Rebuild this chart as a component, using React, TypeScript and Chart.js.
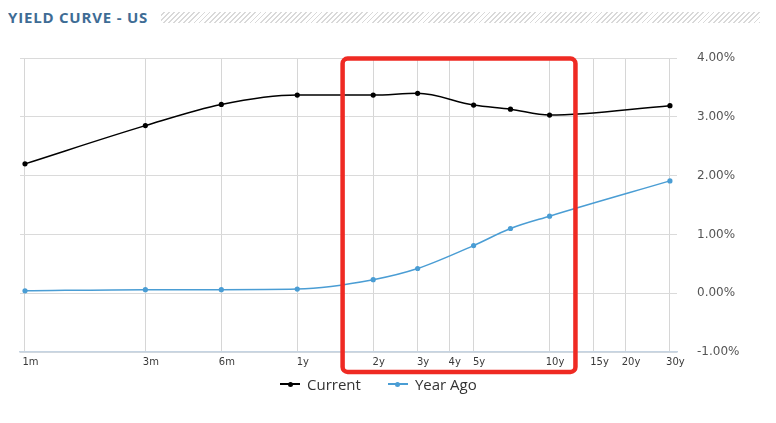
import React, { useEffect, useRef } from "react";
import { Chart, registerables } from "chart.js";

Chart.register(...registerables);

// Maturity in months for each observed point
const maturities = [1, 3, 6, 12, 24, 36, 60, 84, 120, 360];
const currentYields = [2.2, 2.85, 3.21, 3.37, 3.37, 3.4, 3.2, 3.13, 3.03, 3.19];
const yearAgoYields = [0.04, 0.06, 0.06, 0.07, 0.23, 0.42, 0.81, 1.1, 1.31, 1.91];

// X-axis ticks (months) and their labels
const tickMonths = [1, 3, 6, 12, 24, 36, 48, 60, 120, 180, 240, 360];
const tickLabels = ["1m", "3m", "6m", "1y", "2y", "3y", "4y", "5y", "10y", "15y", "20y", "30y"];

// Y-axis range (%)
const yMin = -1;
const yMax = 4;

// Highlight box (in data units: months / percent)
const highlightFrom = 18.15;
const highlightTo = 152;
const highlightTop = 3.99;
const highlightBottom = -1.34;

const CURRENT_COLOR = "#000000";
const YEARAGO_COLOR = "#4a9dd4";

function roundRectPath(ctx: CanvasRenderingContext2D, x: number, y: number, w: number, h: number, r: number) {
  ctx.beginPath();
  ctx.moveTo(x + r, y);
  ctx.lineTo(x + w - r, y);
  ctx.arcTo(x + w, y, x + w, y + r, r);
  ctx.lineTo(x + w, y + h - r);
  ctx.arcTo(x + w, y + h, x + w - r, y + h, r);
  ctx.lineTo(x + r, y + h);
  ctx.arcTo(x, y + h, x, y + h - r, r);
  ctx.lineTo(x, y + r);
  ctx.arcTo(x, y, x + r, y, r);
  ctx.closePath();
}

const highlightPlugin = {
  id: "highlightBox",
  afterDraw(chart: any) {
    const xs = chart.scales.x;
    const ys = chart.scales.y;
    const x1 = xs.getPixelForValue(highlightFrom);
    const x2 = xs.getPixelForValue(highlightTo);
    const y1 = ys.getPixelForValue(highlightTop);
    const y2 = ys.getPixelForValue(highlightBottom);
    const ctx = chart.ctx as CanvasRenderingContext2D;
    ctx.save();
    ctx.strokeStyle = "#ef2a23";
    ctx.lineWidth = 4.5;
    roundRectPath(ctx, x1, y1, x2 - x1, y2 - y1, 5);
    ctx.stroke();
    ctx.restore();
  },
};

function LegendItem({ color, label, ml }: { color: string; label: string; ml: number }) {
  return (
    <div style={{ display: "flex", alignItems: "center", marginLeft: ml }}>
      <div style={{ position: "relative", width: 20, height: 8 }}>
        <div style={{ position: "absolute", left: 0, right: 0, top: 3.25, height: 1.5, background: color }} />
        <div
          style={{
            position: "absolute",
            left: 7.5,
            top: 1.5,
            width: 5,
            height: 5,
            borderRadius: "50%",
            background: color,
          }}
        />
      </div>
      <span
        style={{
          marginLeft: 7,
          fontFamily: "'Open Sans', sans-serif",
          fontSize: 15,
          lineHeight: "20px",
          color: "#333",
        }}
      >
        {label}
      </span>
    </div>
  );
}

export default function App() {
  const canvasRef = useRef<HTMLCanvasElement | null>(null);

  useEffect(() => {
    if (!canvasRef.current) return;
    const chart = new Chart(canvasRef.current, {
      type: "line",
      data: {
        datasets: [
          {
            label: "Current",
            data: maturities.map((m, i) => ({ x: m, y: currentYields[i] })),
            borderColor: CURRENT_COLOR,
            backgroundColor: CURRENT_COLOR,
            pointBackgroundColor: CURRENT_COLOR,
            pointBorderWidth: 0,
            pointRadius: 2.6,
            borderWidth: 1.5,
            cubicInterpolationMode: "monotone",
            fill: false,
          },
          {
            label: "Year Ago",
            data: maturities.map((m, i) => ({ x: m, y: yearAgoYields[i] })),
            borderColor: YEARAGO_COLOR,
            backgroundColor: YEARAGO_COLOR,
            pointBackgroundColor: YEARAGO_COLOR,
            pointBorderWidth: 0,
            pointRadius: 2.6,
            borderWidth: 1.5,
            cubicInterpolationMode: "monotone",
            fill: false,
          },
        ],
      },
      options: {
        animation: false,
        responsive: false,
        maintainAspectRatio: false,
        layout: { padding: { left: 12, top: 18, right: 0, bottom: 20 } },
        plugins: {
          legend: { display: false },
          tooltip: { enabled: false },
        },
        scales: {
          x: {
            type: "logarithmic",
            position: "bottom",
            min: 0.9554,
            max: 384,
            afterBuildTicks: (scale: any) => {
              scale.ticks = tickMonths.map((v) => ({ value: v }));
            },
            afterFit: (scale: any) => {
              scale.height = 18;
            },
            grid: { color: "#d6d6d6", lineWidth: 1, drawTicks: false },
            border: { display: true, color: "#c6d4e2", width: 1.5 },
            ticks: {
              autoSkip: false,
              maxRotation: 0,
              padding: 4,
              labelOffset: 5.5,
              color: "#3a3a3a",
              font: { family: "'DejaVu Sans', sans-serif", size: 10 },
              callback: (value: any) => {
                const idx = tickMonths.indexOf(Number(value));
                return idx >= 0 ? tickLabels[idx] : "";
              },
            },
          },
          y: {
            type: "linear",
            position: "right",
            min: yMin,
            max: yMax,
            afterFit: (scale: any) => {
              scale.width = 91;
              scale.paddingTop = 0;
              scale.paddingBottom = 0;
            },
            grid: { color: "#dadada", lineWidth: 1, drawTicks: false },
            border: { display: false },
            ticks: {
              stepSize: 1,
              padding: 20,
              color: "#555",
              font: { family: "'DejaVu Sans', sans-serif", size: 12 },
              callback: (value: any) => Number(value).toFixed(2) + "%",
            },
          },
        },
      },
      plugins: [highlightPlugin],
    } as any);
    return () => chart.destroy();
  }, []);

  return (
    <div style={{ position: "relative", width: 760, height: 400 }}>
      <div
        style={{
          position: "absolute",
          left: 0,
          top: 2,
          fontFamily: "'Open Sans', sans-serif",
          fontWeight: 700,
          fontSize: 15,
          letterSpacing: "0.8px",
          lineHeight: "15px",
          color: "#3e6c95",
          whiteSpace: "nowrap",
        }}
      >
        YIELD CURVE - US
      </div>
      <div
        style={{
          position: "absolute",
          left: 153,
          top: 4,
          width: 599,
          height: 11,
          backgroundImage:
            "repeating-linear-gradient(-45deg, #d9d9d9 0px, #d9d9d9 1.3px, transparent 1.3px, transparent 3.6px)",
        }}
      />
      <canvas
        ref={canvasRef}
        width={760}
        height={350}
        style={{ position: "absolute", left: 0, top: 32, width: 760, height: 350 }}
      />
      <div style={{ position: "absolute", left: 272, top: 366, display: "flex", alignItems: "center", height: 20 }}>
        <LegendItem color={CURRENT_COLOR} label="Current" ml={0} />
        <LegendItem color={YEARAGO_COLOR} label="Year Ago" ml={27} />
      </div>
    </div>
  );
}
